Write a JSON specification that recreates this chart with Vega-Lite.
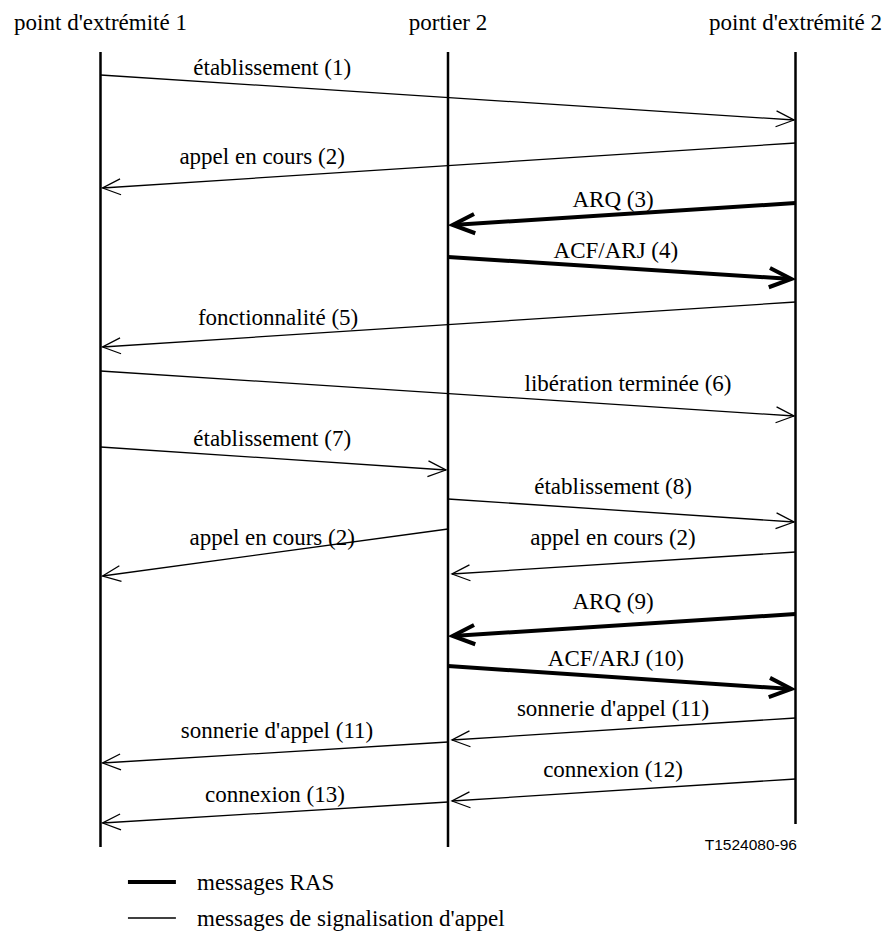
{
  "$schema": "https://vega.github.io/schema/vega-lite/v6.json",
  "width": 887,
  "height": 944,
  "autosize": {"type": "fit", "contains": "padding"},
  "padding": 0,
  "background": "white",
  "config": {"view": {"stroke": null}},
  "datasets": {
    "participants": [
      {"name": "point d'extrémité 1", "lane": 0, "top": 52, "bottom": 847, "hy": 30},
      {"name": "portier 2", "lane": 1, "top": 52, "bottom": 847, "hy": 30},
      {"name": "point d'extrémité 2", "lane": 2, "top": 52, "bottom": 824, "hy": 30}
    ],
    "messages": [
      {"id": 1, "label": "établissement (1)", "kind": "signal", "fx": 0, "fy": 75, "tx": 1.9957, "ty": 120, "lx": 0.494, "ly": 75},
      {"id": 2, "label": "appel en cours (2)", "kind": "signal", "fx": 2, "fy": 143, "tx": 0.006, "ty": 188, "lx": 0.465, "ly": 164},
      {"id": 3, "label": "ARQ (3)", "kind": "RAS", "fx": 2, "fy": 203, "tx": 1.0135, "ty": 225, "lx": 1.475, "ly": 207},
      {"id": 4, "label": "ACF/ARJ (4)", "kind": "RAS", "fx": 1, "fy": 257, "tx": 1.988, "ty": 279, "lx": 1.483, "ly": 258},
      {"id": 5, "label": "fonctionnalité (5)", "kind": "signal", "fx": 2, "fy": 302, "tx": 0.006, "ty": 347, "lx": 0.511, "ly": 325},
      {"id": 6, "label": "libération terminée (6)", "kind": "signal", "fx": 0, "fy": 371, "tx": 1.9957, "ty": 416, "lx": 1.518, "ly": 391},
      {"id": 7, "label": "établissement (7)", "kind": "signal", "fx": 0, "fy": 447, "tx": 0.994, "ty": 470, "lx": 0.494, "ly": 446},
      {"id": 8, "label": "établissement (8)", "kind": "signal", "fx": 1, "fy": 499, "tx": 1.9957, "ty": 522, "lx": 1.475, "ly": 494},
      {"id": 9, "label": "appel en cours (2)", "kind": "signal", "fx": 1, "fy": 529, "tx": 0.006, "ty": 576, "lx": 0.494, "ly": 545},
      {"id": 10, "label": "appel en cours (2)", "kind": "signal", "fx": 2, "fy": 552, "tx": 1.0115, "ty": 574, "lx": 1.475, "ly": 545},
      {"id": 11, "label": "ARQ (9)", "kind": "RAS", "fx": 2, "fy": 614, "tx": 1.0135, "ty": 636, "lx": 1.475, "ly": 609},
      {"id": 12, "label": "ACF/ARJ (10)", "kind": "RAS", "fx": 1, "fy": 666, "tx": 1.988, "ty": 689, "lx": 1.483, "ly": 666},
      {"id": 13, "label": "sonnerie d'appel (11)", "kind": "signal", "fx": 2, "fy": 718, "tx": 1.0115, "ty": 740, "lx": 1.475, "ly": 716},
      {"id": 14, "label": "sonnerie d'appel (11)", "kind": "signal", "fx": 1, "fy": 742, "tx": 0.006, "ty": 763, "lx": 0.508, "ly": 738},
      {"id": 15, "label": "connexion (12)", "kind": "signal", "fx": 2, "fy": 779, "tx": 1.0115, "ty": 801, "lx": 1.475, "ly": 777},
      {"id": 16, "label": "connexion (13)", "kind": "signal", "fx": 1, "fy": 802, "tx": 0.006, "ty": 823, "lx": 0.502, "ly": 802}
    ],
    "legend": [
      {"kind": "RAS", "label": "messages RAS", "x1": 0.079, "x2": 0.217, "y": 882, "ty": 890, "tx": 0.2777},
      {"kind": "signal", "label": "messages de signalisation d'appel", "x1": 0.079, "x2": 0.217, "y": 918, "ty": 926, "tx": 0.2777}
    ],
    "figid": [
      {"label": "T1524080-96", "x": 2.0043, "y": 850}
    ]
  },
  "layer": [
    {
      "data": {"name": "participants"},
      "mark": {"type": "rule", "color": "black", "strokeWidth": 2.5, "strokeCap": "butt"},
      "encoding": {
        "x": {"field": "lane", "type": "quantitative", "axis": null, "scale": {"domain": [-0.2892, 2.2633], "nice": false, "zero": false}},
        "y": {"field": "top", "type": "quantitative", "axis": null, "scale": {"domain": [0, 944], "reverse": true, "nice": false, "zero": false}},
        "y2": {"field": "bottom"}
      }
    },
    {
      "data": {"name": "participants"},
      "mark": {"type": "text", "font": "Liberation Serif, Times New Roman, DejaVu Serif, serif", "fontSize": 23, "align": "center", "baseline": "alphabetic", "color": "black"},
      "encoding": {
        "x": {"field": "lane", "type": "quantitative"},
        "y": {"field": "hy", "type": "quantitative"},
        "text": {"field": "name"}
      }
    },
    {
      "data": {"name": "messages"},
      "mark": {"type": "rule", "color": "black", "strokeCap": "butt"},
      "encoding": {
        "x": {"field": "fx", "type": "quantitative"},
        "y": {"field": "fy", "type": "quantitative"},
        "x2": {"field": "tx"},
        "y2": {"field": "ty"},
        "strokeWidth": {"field": "kind", "type": "nominal", "scale": {"domain": ["RAS", "signal"], "range": [4, 1.3]}, "legend": null}
      }
    },
    {
      "data": {"name": "messages"},
      "transform": [
        {"calculate": "atan2(datum.ty - datum.fy, (datum.tx - datum.fx) * 347.5) * 180 / PI", "as": "ang"}
      ],
      "mark": {"type": "point", "shape": "M-1,-0.44L0,0L-1,0.44", "filled": false, "color": "black", "opacity": 1, "strokeJoin": "miter", "strokeCap": "butt"},
      "encoding": {
        "x": {"field": "tx", "type": "quantitative"},
        "y": {"field": "ty", "type": "quantitative"},
        "angle": {"field": "ang", "type": "quantitative", "scale": null},
        "size": {"field": "kind", "type": "nominal", "scale": {"domain": ["RAS", "signal"], "range": [1936, 1296]}, "legend": null},
        "strokeWidth": {"field": "kind", "type": "nominal", "scale": {"domain": ["RAS", "signal"], "range": [4, 1.3]}, "legend": null}
      }
    },
    {
      "data": {"name": "messages"},
      "mark": {"type": "text", "font": "Liberation Serif, Times New Roman, DejaVu Serif, serif", "fontSize": 23, "align": "center", "baseline": "alphabetic", "color": "black"},
      "encoding": {
        "x": {"field": "lx", "type": "quantitative"},
        "y": {"field": "ly", "type": "quantitative"},
        "text": {"field": "label"}
      }
    },
    {
      "data": {"name": "legend"},
      "mark": {"type": "rule", "color": "black", "strokeCap": "butt"},
      "encoding": {
        "x": {"field": "x1", "type": "quantitative"},
        "x2": {"field": "x2"},
        "y": {"field": "y", "type": "quantitative"},
        "strokeWidth": {"field": "kind", "type": "nominal", "scale": {"domain": ["RAS", "signal"], "range": [4, 1.3]}, "legend": null}
      }
    },
    {
      "data": {"name": "legend"},
      "mark": {"type": "text", "font": "Liberation Serif, Times New Roman, DejaVu Serif, serif", "fontSize": 23, "align": "left", "baseline": "alphabetic", "color": "black"},
      "encoding": {
        "x": {"field": "tx", "type": "quantitative"},
        "y": {"field": "ty", "type": "quantitative"},
        "text": {"field": "label"}
      }
    },
    {
      "data": {"name": "figid"},
      "mark": {"type": "text", "font": "Liberation Sans, Arial, sans-serif", "fontSize": 15.5, "align": "right", "baseline": "alphabetic", "color": "black"},
      "encoding": {
        "x": {"field": "x", "type": "quantitative"},
        "y": {"field": "y", "type": "quantitative"},
        "text": {"field": "label"}
      }
    }
  ]
}
